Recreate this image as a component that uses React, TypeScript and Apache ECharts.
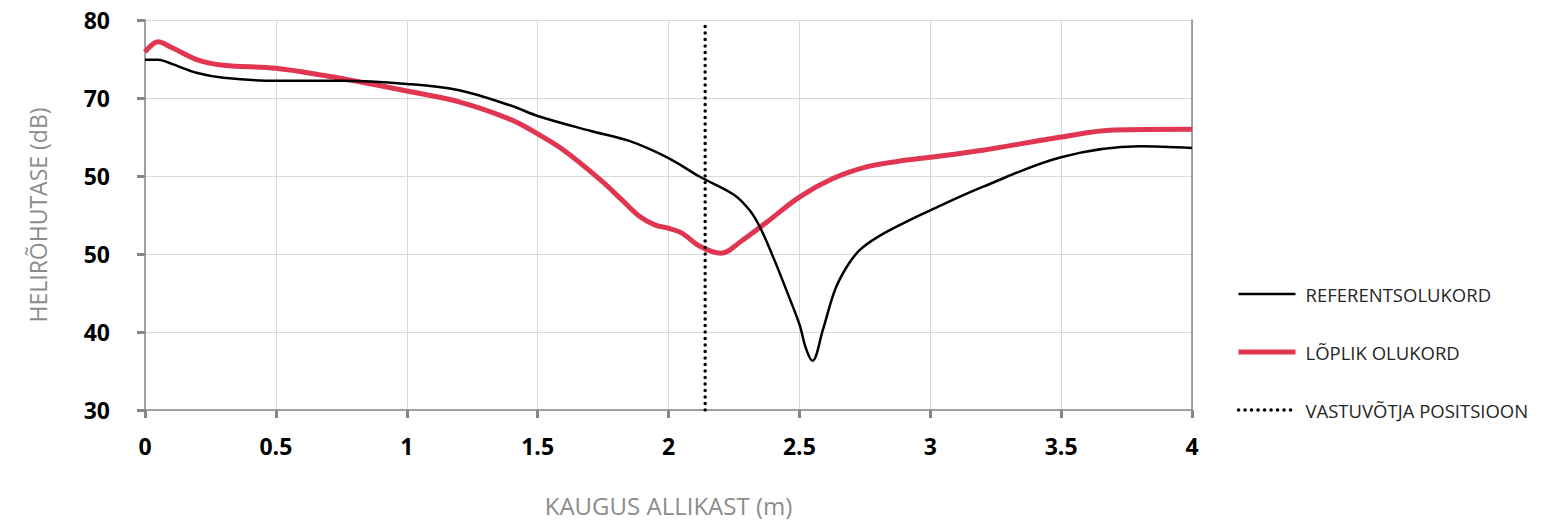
import React, { useEffect, useRef } from "react";
import * as echarts from "echarts";

const yTickValues = [30, 40, 50, 60, 70, 80];
const yTickLabels = ["30", "40", "50", "50", "70", "80"];
const xTickLabels = ["0", "0.5", "1", "1.5", "2", "2.5", "3", "3.5", "4"];

const refX = [0, 0.05, 0.1, 0.2, 0.3, 0.5, 0.75, 1.0, 1.2, 1.4, 1.5, 1.7, 1.85, 2.0, 2.12, 2.25, 2.31, 2.35, 2.4, 2.45, 2.5, 2.525, 2.55, 2.59, 2.635, 2.68, 2.73, 2.8, 2.9, 3.0, 3.2, 3.5, 3.8, 4.0];
const refY = [74.9, 74.9, 74.4, 73.2, 72.6, 72.2, 72.2, 71.8, 71.0, 69.0, 67.7, 65.8, 64.5, 62.3, 59.9, 57.6, 55.6, 53.4, 49.6, 45.4, 41.0, 37.9, 36.3, 40.3, 45.3, 48.3, 50.5, 52.2, 54.0, 55.6, 58.6, 62.4, 63.8, 63.6];

const finX = [0, 0.05, 0.1, 0.2, 0.3, 0.5, 0.7, 0.8, 1.0, 1.2, 1.4, 1.5, 1.6, 1.74, 1.82, 1.89, 1.95, 2.0, 2.05, 2.12, 2.2, 2.28, 2.38, 2.5, 2.63, 2.76, 2.88, 3.0, 3.2, 3.5, 3.7, 4.0];
const finY = [75.9, 77.2, 76.5, 74.9, 74.2, 73.8, 72.8, 72.2, 70.9, 69.5, 67.2, 65.4, 63.3, 59.5, 57.0, 54.8, 53.7, 53.3, 52.7, 51.0, 50.1, 51.7, 54.2, 57.3, 59.7, 61.2, 61.9, 62.4, 63.3, 65.0, 65.9, 66.0];

const receiverX = 2.14;
const seriesNames = ["REFERENTSOLUKORD", "LÕPLIK OLUKORD", "VASTUVÕTJA POSITSIOON"];

const FONT = "'Open Sans', 'Noto Sans', sans-serif";

export default function App() {
  const ref = useRef<HTMLDivElement>(null);
  useEffect(() => {
    if (!ref.current) return;
    const chart = echarts.init(ref.current, undefined, { renderer: "svg" });
    const axisGray = "#878787";
    chart.setOption({
      animation: false,
      backgroundColor: "#ffffff",
      textStyle: { fontFamily: FONT },
      grid: { left: 145, width: 1047, top: 20, height: 390, containLabel: false },
      legend: {
        orient: "vertical",
        left: 1236,
        top: 284,
        itemWidth: 57,
        itemHeight: 20,
        itemGap: 38,
        padding: 0,
        data: [
          { name: seriesNames[0], lineStyle: { color: "#000000", width: 2.5 } },
          { name: seriesNames[1], lineStyle: { color: "#e03651", width: 5 } },
          { name: seriesNames[2], lineStyle: { color: "#000000", width: 3.5, type: [0.1, 6.4], cap: "round" } },
        ],
        itemStyle: { opacity: 0 },
        textStyle: { fontFamily: FONT, fontSize: 18.5, lineHeight: 20, color: "#262626", padding: [0, 0, 0, 5] },
      },
      xAxis: {
        type: "value",
        min: 0,
        max: 4,
        interval: 0.5,
        name: "KAUGUS ALLIKAST (m)",
        nameLocation: "middle",
        nameGap: 83,
        nameTextStyle: { fontFamily: FONT, fontSize: 24, color: "#8c8c8c" },
        axisLine: { show: true, onZero: false, lineStyle: { color: axisGray, width: 1.5 } },
        axisTick: { show: true, length: 8, lineStyle: { color: axisGray, width: 3 } },
        axisLabel: {
          fontFamily: FONT,
          fontSize: 23,
          fontWeight: "bold",
          color: "#000",
          margin: 24,
          formatter: (v: number) => xTickLabels[Math.round(v / 0.5)] ?? String(v),
        },
        splitLine: { show: true, lineStyle: { color: "#d9d9d9", width: 1 } },
      },
      yAxis: [
        {
          type: "value",
          min: 30,
          max: 80,
          interval: 10,
          name: "HELIRÕHUTASE (dB)",
          nameLocation: "middle",
          nameGap: 96,
          nameRotate: 90,
          nameTextStyle: { fontFamily: FONT, fontSize: 23, color: "#8c8c8c" },
          axisLine: { show: true, lineStyle: { color: axisGray, width: 1.5 } },
          axisTick: { show: true, length: 8, lineStyle: { color: axisGray, width: 3 } },
          axisLabel: {
            fontFamily: FONT,
            fontSize: 23,
            fontWeight: "bold",
            color: "#000",
            margin: 35,
            padding: [5, 0, 0, 0],
            formatter: (v: number) => {
              const i = yTickValues.indexOf(Math.round(v));
              return i >= 0 ? yTickLabels[i] : String(v);
            },
          },
          splitLine: { show: true, lineStyle: { color: "#d9d9d9", width: 1 } },
        },
        {
          type: "value",
          position: "right",
          min: 30,
          max: 80,
          interval: 10,
          axisLine: { show: true, lineStyle: { color: axisGray, width: 1.5 } },
          axisTick: { show: false },
          axisLabel: { show: false },
          splitLine: { show: false },
        },
      ],
      series: [
        {
          name: seriesNames[0],
          type: "line",
          smooth: 0.35,
          showSymbol: false,
          symbol: "none",
          data: refX.map((x, i) => [x, refY[i]]),
          lineStyle: { color: "#000000", width: 2.5 },
          itemStyle: { color: "#000000" },
          z: 3,
        },
        {
          name: seriesNames[1],
          type: "line",
          smooth: 0.35,
          showSymbol: false,
          symbol: "none",
          data: finX.map((x, i) => [x, finY[i]]),
          lineStyle: { color: "#e03651", width: 5 },
          itemStyle: { color: "#e03651" },
          z: 2,
        },
        {
          name: seriesNames[2],
          type: "line",
          showSymbol: false,
          symbol: "none",
          data: [
            [receiverX, 30],
            [receiverX, 80],
          ],
          lineStyle: { color: "#000000", width: 3.5, type: [0.1, 6.4], cap: "round" },
          itemStyle: { color: "#000000" },
          z: 4,
        },
      ],
    });
    return () => chart.dispose();
  }, []);
  return (
    <div
      ref={ref}
      style={{ position: "absolute", left: 0, top: 0, width: 1545, height: 522 }}
    />
  );
}
